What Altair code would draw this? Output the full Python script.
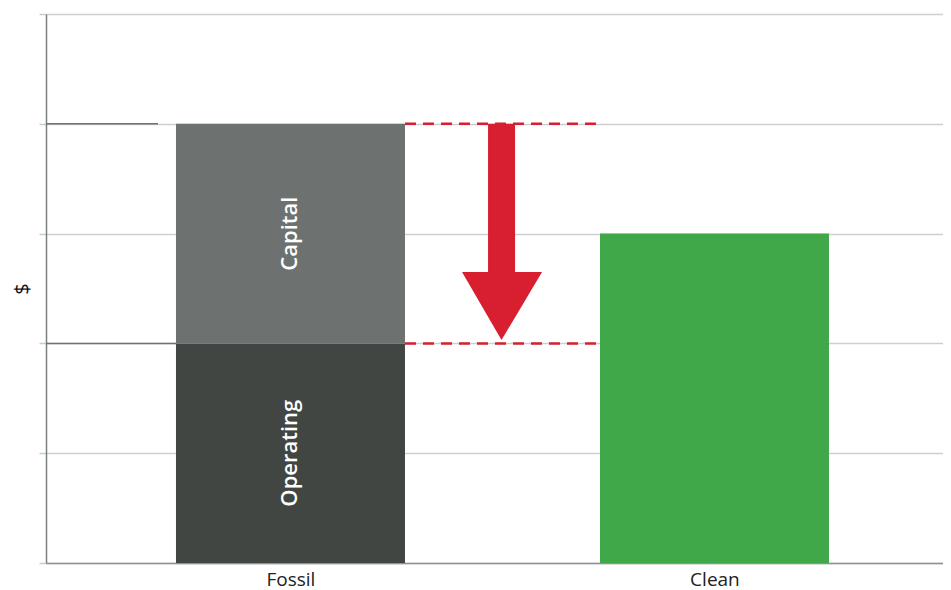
import altair as alt
import pandas as pd

# ---- data ----
seg_category = ["Fossil", "Fossil", "Clean"]
seg_name = ["Operating", "Capital", "Clean"]
seg_start = [0, 2, 0]
seg_end = [2, 4, 3]
seg_left = [14.49, 14.49, 61.76]
seg_right = [40.02, 40.02, 87.29]
seg_colors = ["#424642", "#6d7270", "#41a84a"]

label_text = ["Operating", "Capital"]
label_x = [27.25, 27.25]
label_y = [1, 3]

axis_values = [27.25, 74.52]
axis_labels = ["Fossil", "Clean"]

dash_y = [4, 2]
dash_x1 = [40.02, 40.02]
dash_x2 = [62.1, 62.1]

leader_y = [4, 2]
leader_x1 = [0, 0]
leader_x2 = [12.49, 14.49]

shaft_x1 = [49.28]
shaft_x2 = [52.29]
shaft_top = [4.0]
shaft_bottom = [2.62]

head_x = [46.38, 50.78, 55.30]
head_low = [2.65, 2.03, 2.65]
head_high = [2.65, 2.65, 2.65]

# ---- tables ----
bars = pd.DataFrame({"cat": seg_category, "seg": seg_name, "y0": seg_start,
                     "y1": seg_end, "x0": seg_left, "x1": seg_right})
labels = pd.DataFrame({"t": label_text, "x": label_x, "y": label_y})
dashes = pd.DataFrame({"y": dash_y, "x0": dash_x1, "x1": dash_x2})
leaders = pd.DataFrame({"y": leader_y, "x0": leader_x1, "x1": leader_x2})
shaft = pd.DataFrame({"x0": shaft_x1, "x1": shaft_x2, "y0": shaft_bottom, "y1": shaft_top})
head = pd.DataFrame({"x": head_x, "lo": head_low, "hi": head_high})

FONT = "Open Sans"
xscale = alt.Scale(domain=[0, 100], nice=False, zero=False)
yscale = alt.Scale(domain=[0, 5], nice=False)

label_expr = "datum.value < 50 ? '" + axis_labels[0] + "' : '" + axis_labels[1] + "'"
xaxis = alt.Axis(values=axis_values, labelExpr=label_expr, grid=False, ticks=False,
                 domainColor="#8d9292", domainWidth=1.5, labelFontSize=19,
                 labelColor="#222222", labelPadding=7, labelFont=FONT, title=None)
yaxis = alt.Axis(values=[0, 1, 2, 3, 4, 5], labels=False, tickSize=7, tickColor="#c8cccc",
                 tickWidth=1.5, gridColor="#cdd0d0", gridWidth=1.5, domainColor="#7a8080",
                 domainWidth=1.5, title="$", titleFontSize=20, titleFont=FONT,
                 titleFontWeight="normal", titleColor="#111111", titlePadding=6)


def X(field, **kw):
    return alt.X(field, type="quantitative", scale=xscale, axis=xaxis, **kw)


def Y(field, **kw):
    return alt.Y(field, type="quantitative", scale=yscale, axis=yaxis, **kw)


bar_layer = alt.Chart(bars).mark_rect().encode(
    x=X("x0"), x2="x1", y=Y("y0"), y2="y1",
    color=alt.Color("seg:N", scale=alt.Scale(domain=seg_name, range=seg_colors), legend=None),
)

leader_layer = alt.Chart(leaders).mark_rule(color="#6d7270", strokeWidth=1.5).encode(
    x=X("x0"), x2="x1", y=Y("y")
)

text_layer = alt.Chart(labels).mark_text(
    angle=270, color="white", fontSize=22, fontWeight=600, font=FONT
).encode(x=X("x"), y=Y("y"), text="t:N")

dash_layer = alt.Chart(dashes).mark_rule(
    color="#d71f30", strokeWidth=2.5, strokeDash=[11, 7]
).encode(x=X("x0"), x2="x1", y=Y("y"))

shaft_layer = alt.Chart(shaft).mark_rect(color="#d71f30").encode(
    x=X("x0"), x2="x1", y=Y("y0"), y2="y1"
)

head_layer = alt.Chart(head).mark_area(color="#d71f30", opacity=1).encode(
    x=X("x"), y=Y("lo"), y2="hi"
)

chart = alt.layer(
    leader_layer, bar_layer, text_layer, dash_layer, shaft_layer, head_layer
).properties(
    width=897, height=549,
    autosize=alt.AutoSizeParams(type="none"),
    padding={"left": 38, "top": 6, "right": 0, "bottom": 30},
).configure_view(stroke=None)

chart.save("out.html", embed_options={"renderer": "svg", "actions": False})
